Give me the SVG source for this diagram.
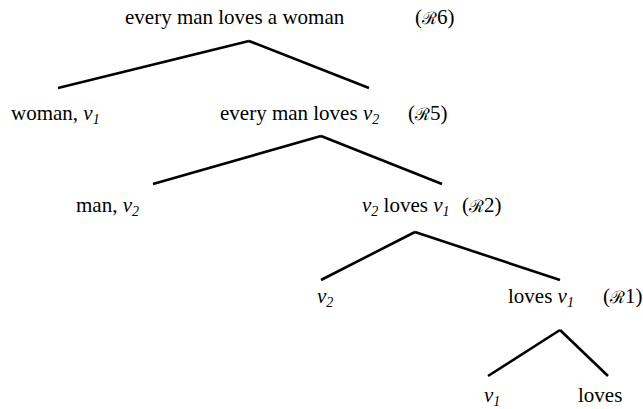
<svg xmlns="http://www.w3.org/2000/svg" width="643" height="409" viewBox="0 0 643 409">
<style>
.t{font-size:21px;fill:#000}
.i{font-style:italic}
.s{font-size:14px;font-style:italic}
.r{font-size:17px}
#edges line{stroke:#000;stroke-width:2.6;stroke-linecap:butt}
</style>
<rect width="643" height="409" fill="#fff"/>
<g id="edges">
<line x1="249" y1="41" x2="58" y2="88"/>
<line x1="249" y1="41" x2="369" y2="88"/>
<line x1="321" y1="136" x2="153" y2="184"/>
<line x1="321" y1="136" x2="442" y2="184"/>
<line x1="415" y1="232" x2="321" y2="280"/>
<line x1="415" y1="232" x2="560" y2="280"/>
<line x1="560" y1="330" x2="488" y2="376"/>
<line x1="560" y1="330" x2="608" y2="376"/>
</g>
<g id="n6">
<text class="t" font-family="Liberation Serif" x="125" y="24">every man loves a woman</text>
<text class="t" font-family="Liberation Serif" x="415" y="24">(<tspan class="r">ℛ</tspan>6)</text>
</g>
<g id="woman">
<text class="t" font-family="Liberation Serif" x="11" y="120">woman, <tspan class="i">v</tspan><tspan class="s" dy="4">1</tspan></text>
</g>
<g id="n5">
<text class="t" font-family="Liberation Serif" x="220" y="120">every man loves <tspan class="i">v</tspan><tspan class="s" dy="4">2</tspan></text>
<text class="t" font-family="Liberation Serif" x="408" y="120">(<tspan class="r">ℛ</tspan>5)</text>
</g>
<g id="man">
<text class="t" font-family="Liberation Serif" x="76" y="212">man, <tspan class="i">v</tspan><tspan class="s" dy="4">2</tspan></text>
</g>
<g id="n2">
<text class="t" font-family="Liberation Serif" x="362" y="212"><tspan class="i">v</tspan><tspan class="s" dy="4">2</tspan><tspan dy="-4"> loves </tspan><tspan class="i">v</tspan><tspan class="s" dy="4">1</tspan></text>
<text class="t" font-family="Liberation Serif" x="462" y="212">(<tspan class="r">ℛ</tspan>2)</text>
</g>
<g id="v2">
<text class="t" font-family="Liberation Serif" x="317" y="303"><tspan class="i">v</tspan><tspan class="s" dy="4">2</tspan></text>
</g>
<g id="n1">
<text class="t" font-family="Liberation Serif" x="508" y="303">loves <tspan class="i">v</tspan><tspan class="s" dy="4">1</tspan></text>
<text class="t" font-family="Liberation Serif" x="603" y="303">(<tspan class="r">ℛ</tspan>1)</text>
</g>
<g id="v1">
<text class="t" font-family="Liberation Serif" x="484" y="402"><tspan class="i">v</tspan><tspan class="s" dy="4">1</tspan></text>
</g>
<g id="loves">
<text class="t" font-family="Liberation Serif" x="578" y="402">loves</text>
</g>
</svg>
